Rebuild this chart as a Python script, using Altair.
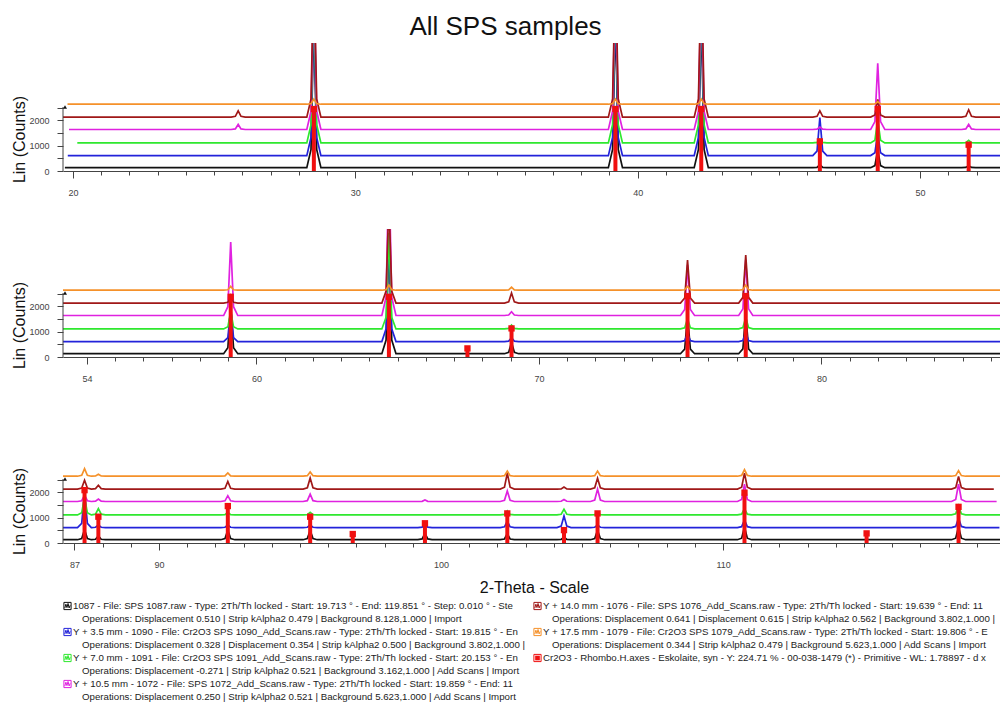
import math
import altair as alt
import pandas as pd

# ---------------- data ----------------
samples = ["1087", "1090", "1091", "1072", "1076", "1079"]
trace_colors = ["#111111", "#2323DA", "#2EE82E", "#E022E0", "#A01818", "#F5912A"]
baseline = [130, 610, 1110, 1640, 2130, 2640]
scan_start = [19.713, 19.815, 20.153, 19.859, 19.639, 19.806]
scan_end = [119.851, 119.80, 119.85, 119.70, 119.60, 119.85]

# peak positions (2-theta) and peak heights above each trace's baseline (counts)
peak_pos = [25.85, 28.53, 39.21, 42.25, 46.45, 48.50, 51.72, 59.09, 64.69, 69.03,
            75.26, 77.32, 87.36, 87.85, 92.44, 95.36, 99.43, 102.35, 104.36,
            105.55, 110.76, 118.35]
h_1087 = [0, 6000, 6000, 6000, 120, 700, 80, 1950, 4500, 450,
          1500, 1600, 400, 150, 380, 370, 250, 240, 100, 370, 500, 500]
h_1090 = [0, 6000, 6000, 6000, 1500, 900, 0, 1300, 4200, 150,
          300, 350, 1400, 100, 100, 100, 120, 250, 460, 100, 300, 370]
h_1091 = [0, 6000, 6000, 6000, 150, 900, 100, 700, 3800, 150,
          400, 450, 700, 250, 100, 100, 0, 160, 225, 100, 250, 360]
h_1072 = [200, 6000, 6000, 6000, 100, 2620, 200, 2900, 6000, 150,
          2000, 2200, 250, 100, 230, 290, 60, 420, 80, 490, 690, 690]
h_1076 = [250, 6000, 6000, 6000, 250, 700, 290, 300, 4000, 400,
          1700, 1900, 350, 150, 300, 440, 0, 630, 80, 430, 630, 500]
h_1079 = [0, 200, 200, 200, 0, 100, 0, 150, 200, 120,
          150, 200, 300, 80, 130, 170, 0, 200, 0, 200, 260, 220]
heights = [h_1087, h_1090, h_1091, h_1072, h_1076, h_1079]

# Cr2O3 reference pattern (position, intensity in axis counts)
ref_pos = [28.53, 39.21, 42.25, 46.45, 48.50, 51.72, 59.09, 64.69, 67.47, 69.03,
           75.26, 77.32, 87.36, 87.85, 92.44, 95.36, 96.87, 99.43, 102.35,
           104.36, 105.55, 110.76, 115.09, 118.35]
ref_int = [2450, 2450, 2450, 1170, 2450, 1040, 2380, 2380, 340, 1130,
           2410, 2410, 2090, 1040, 1460, 1040, 355, 780, 1170, 510, 1170,
           1990, 380, 1430]

panel_domains = [[19.646, 52.83], [53.154, 86.32], [86.596, 119.82]]
panel_labels = [[20, 30, 40, 50], [54, 60, 70, 80], [87, 90, 100, 110, 120]]
y_ticks = [0, 500, 1000, 1500, 2000, 2500]
y_axis_top = [2530]

legend_titles = [
    "1087 - File: SPS 1087.raw - Type: 2Th/Th locked - Start: 19.713 ° - End: 119.851 ° - Step: 0.010 ° - Ste",
    "Y + 3.5 mm - 1090 - File: Cr2O3 SPS 1090_Add_Scans.raw - Type: 2Th/Th locked - Start: 19.815 ° - En",
    "Y + 7.0 mm - 1091 - File: Cr2O3 SPS 1091_Add_Scans.raw - Type: 2Th/Th locked - Start: 20.153 ° - En",
    "Y + 10.5 mm - 1072 - File: SPS 1072_Add_Scans.raw - Type: 2Th/Th locked - Start: 19.859 ° - End: 11",
    "Y + 14.0 mm - 1076 - File: SPS 1076_Add_Scans.raw - Type: 2Th/Th locked - Start: 19.639 ° - End: 11",
    "Y + 17.5 mm - 1079 - File: Cr2O3 SPS 1079_Add_Scans.raw - Type: 2Th/Th locked - Start: 19.806 ° - E",
    "Cr2O3 - Rhombo.H.axes - Eskolaite, syn - Y: 224.71 % - 00-038-1479 (*) - Primitive - WL: 1.78897 - d x",
]
legend_ops = [
    "Operations: Displacement 0.510 | Strip kAlpha2 0.479 | Background 8.128,1.000 | Import",
    "Operations: Displacement 0.328 | Displacement 0.354 | Strip kAlpha2 0.500 | Background 3.802,1.000 |",
    "Operations: Displacement -0.271 | Strip kAlpha2 0.521 | Background 3.162,1.000 | Add Scans | Import",
    "Operations: Displacement 0.250 | Strip kAlpha2 0.521 | Background 5.623,1.000 | Add Scans | Import",
    "Operations: Displacement 0.641 | Displacement 0.615 | Strip kAlpha2 0.562 | Background 3.802,1.000 |",
    "Operations: Displacement 0.344 | Strip kAlpha2 0.479 | Background 5.623,1.000 | Add Scans | Import",
]
legend_keys = samples + ["Cr2O3"]
ref_color = "#F01010"

# ---------------- tables ----------------
rows = []
for s, b, x0, x1, hs in zip(samples, baseline, scan_start, scan_end, heights):
    pts = [(x0, b), (x1, b)]
    for p, h in zip(peak_pos, hs):
        if h > 0:
            pts += [(p - 0.25, b), (p - 0.1, b + 0.12 * h), (p, b + h),
                    (p + 0.1, b + 0.12 * h), (p + 0.25, b)]
    pts.sort()
    for x, y in pts:
        rows.append({"sample": s, "theta": x, "counts": y})
traces = pd.DataFrame(rows)
refs = pd.DataFrame({"pos": ref_pos, "int": ref_int})
yline = pd.DataFrame({"y0": [0], "y1": y_axis_top})

leg_rows = []
for i, (key, t) in enumerate(zip(legend_keys, legend_titles)):
    col = 0 if i < 4 else 1
    r = 2 * (i if i < 4 else i - 4)
    leg_rows.append({"key": key, "text": t, "col": col, "row": r, "kind": "head"})
    if i < len(legend_ops):
        leg_rows.append({"key": key, "text": legend_ops[i], "col": col, "row": r + 1, "kind": "ops"})
legend_df = pd.DataFrame(leg_rows)

FONT = "Liberation Sans"
AX = "#444444"
W = 937
color_scale = alt.Scale(domain=legend_keys, range=trace_colors + [ref_color])
yscale = alt.Scale(domain=[0, 5060], nice=False, zero=False)


def panel(k):
    lo, hi = panel_domains[k]
    labs = panel_labels[k]
    ticks = list(range(math.ceil(lo), math.floor(hi) + 1))
    test = "indexof([%s], datum.value) >= 0" % ",".join(str(v) for v in labs)
    last = k == 2
    xaxis = alt.Axis(
        values=ticks, format="d", labelExpr=f"{test} ? datum.label : ''",
        tickSize={"condition": {"test": test, "value": 7}, "value": 4},
        labelPadding=10, labelFontSize=9, labelColor=AX, labelFont=FONT,
        tickColor=AX, domainColor=AX, grid=False, labelOverlap=False,
        title="2-Theta - Scale" if last else None,
        **({"titleX": 471, "titleY": 44, "titleAlign": "center",
            "titleBaseline": "middle", "titleFontSize": 16,
            "titleFontWeight": "normal", "titleColor": "#111111",
            "titleFont": FONT} if last else {}),
    )
    yaxis = alt.Axis(
        values=y_ticks, format="d",
        labelExpr="datum.value % 1000 == 0 ? datum.label : ''",
        tickSize=6, domain=False, grid=False, labelFontSize=9, labelPadding=8,
        labelColor=AX, tickColor=AX, labelFont=FONT,
        title="Lin (Counts)", titleFontSize=16, titleFontWeight="normal",
        titleFont=FONT, titleColor="#111111",
        titleX=-44, titleY=96, titleAngle=270, titleAlign="center",
        titleBaseline="middle",
    )
    xs = alt.Scale(domain=[lo, hi], nice=False, zero=False)

    lines = alt.Chart(traces).mark_line(strokeWidth=1.7, clip=True).encode(
        x=alt.X("theta:Q", scale=xs, axis=xaxis),
        y=alt.Y("counts:Q", scale=yscale, axis=yaxis),
        color=alt.Color("sample:N", scale=color_scale, legend=None),
        detail="sample:N",
    )
    bars = alt.Chart(refs).mark_rule(color=ref_color, strokeWidth=4, clip=True).encode(
        x=alt.X("pos:Q", scale=xs, axis=xaxis),
        y=alt.Y("int:Q", scale=yscale, axis=yaxis),
        y2=alt.datum(0),
    )
    squares = alt.Chart(refs).mark_square(color=ref_color, size=40, opacity=1, clip=True).encode(
        x=alt.X("pos:Q", scale=xs, axis=xaxis),
        y=alt.Y("int:Q", scale=yscale, axis=yaxis),
    )
    yl = alt.Chart(yline).mark_rule(color=AX, strokeWidth=1).encode(
        x=alt.value(0),
        y=alt.Y("y0:Q", scale=yscale, axis=yaxis),
        y2="y1:Q",
    )
    arrow = alt.Chart(yline).mark_point(shape="triangle-up", filled=True, size=16,
                                        color="#111111", opacity=1).encode(
        x=alt.value(2),
        y=alt.Y("y1:Q", scale=yscale, axis=yaxis),
    )
    return alt.layer(lines, bars, squares, yl, arrow).properties(width=W, height=128)


panels = alt.vconcat(panel(0), panel(1), panel(2), spacing=32)

# ---------------- legend block ----------------
LINE = 13.0
lx = alt.Scale(domain=[0, 1], range=[10, 480])
ly = alt.Scale(domain=[0, 7], range=[6, 6 + 7 * LINE])
ix = alt.Scale(domain=[0, 1], range=[4.5, 474.5])
base_leg = alt.Chart(legend_df)
heads = base_leg.transform_filter("datum.kind == 'head'").mark_text(
    align="left", baseline="middle", fontSize=9.7, font=FONT, color="#222222"
).encode(x=alt.X("col:Q", scale=lx, axis=None), y=alt.Y("row:Q", scale=ly, axis=None), text="text:N")
ops = base_leg.transform_filter("datum.kind == 'ops'").mark_text(
    align="left", baseline="middle", fontSize=9.7, font=FONT, color="#222222", dx=9
).encode(x=alt.X("col:Q", scale=lx, axis=None), y=alt.Y("row:Q", scale=ly, axis=None), text="text:N")
box = base_leg.transform_filter("datum.kind == 'head'").mark_point(
    shape="M-1,-1L1,-1L1,1L-1,1Z", filled=False, size=52, strokeWidth=1, opacity=1
).encode(x=alt.X("col:Q", scale=ix, axis=None), y=alt.Y("row:Q", scale=ly, axis=None),
         color=alt.Color("key:N", scale=color_scale, legend=None))
zig = base_leg.transform_filter("datum.kind == 'head' && datum.key != 'Cr2O3'").mark_point(
    shape="M-0.75,0.6L-0.45,-0.5L-0.15,0.45L0.15,-0.7L0.45,0.55L0.75,-0.2",
    filled=False, size=52, strokeWidth=1, opacity=1
).encode(x=alt.X("col:Q", scale=ix, axis=None), y=alt.Y("row:Q", scale=ly, axis=None),
         color=alt.Color("key:N", scale=color_scale, legend=None))
fill = base_leg.transform_filter("datum.key == 'Cr2O3'").mark_square(
    size=22, opacity=1, color=ref_color
).encode(x=alt.X("col:Q", scale=ix, axis=None), y=alt.Y("row:Q", scale=ly, axis=None))
legend = alt.layer(heads, ops, box, zig, fill).resolve_scale(x="independent").properties(
    width=W, height=6 + 7 * LINE + 5)

chart = alt.vconcat(panels, legend, spacing=5).properties(
    title=alt.TitleParams("All SPS samples", fontSize=26, font=FONT, fontWeight="normal",
                          color="#111111", anchor="middle", offset=3),
    padding={"left": 3, "top": 6, "right": 0, "bottom": 0},
).configure_view(stroke=None).configure_axis(grid=False)

chart.save("out.html", embed_options={"renderer": "svg", "actions": False})
